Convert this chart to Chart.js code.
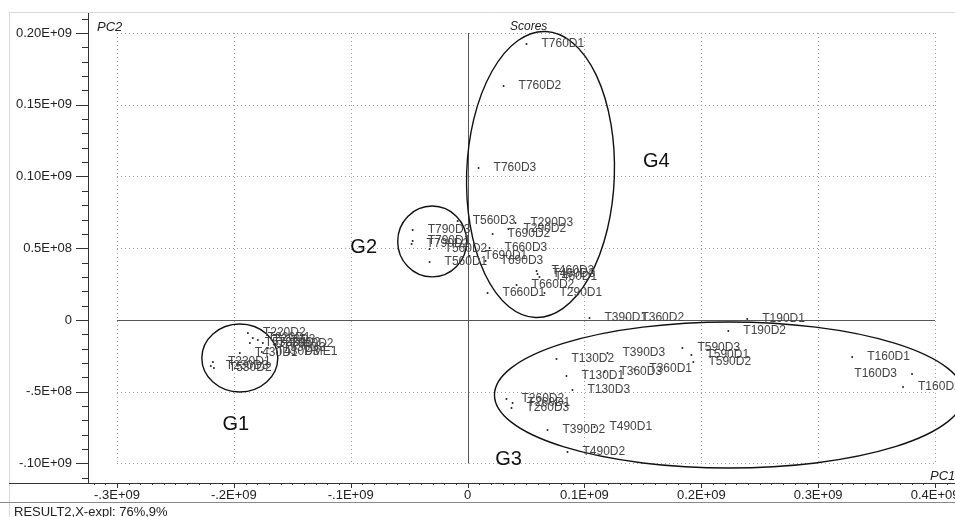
<!DOCTYPE html>
<html>
<head>
<meta charset="utf-8">
<script src="https://cdn.jsdelivr.net/npm/chart.js@4/dist/chart.umd.min.js"></script>
<style>
  html, body { margin: 0; padding: 0; background: #fff; overflow: hidden; }
  #wrap { position: relative; width: 980px; height: 517px; }
</style>
</head>
<body>
<div id="wrap"><canvas id="scores" width="980" height="517"></canvas></div>
<script>
// PCA scores, RESULT2: sample names with their PC1 / PC2 scores
const sampleNames = [
  'T760D1', 'T760D2', 'T760D3', 'T560D3', 'T290D3', 'T290D2', 'T690D2', 'T660D3',
  'T690D1', 'T690D3', 'T460D2', 'T460D3', 'T460D1', 'T660D2', 'T660D1', 'T290D1',
  'T790D3', 'T790D1', 'T790D2', 'T560D2', 'T560D1',
  'T390D1', 'T360D2', 'T190D1', 'T190D2',
  'T130D2', 'T390D3', 'T130D1', 'T360D3', 'T360D1', 'T130D3', 'T260D2', 'T260D1',
  'T260D3', 'T390D2', 'T490D1', 'T490D2', 'T590D3', 'T590D1', 'T590D2', 'T160D1',
  'T160D3', 'T160D2',
  'T220D2', 'T220D1', 'T220D3', 'T230D2', 'T330D2', 'T530D1', 'T530D3', 'T430D1',
  'T430D3', 'PME1', 'T230D1', 'T230D3', 'T530D2'
];
const pc1 = [
  0.0504e9, 0.0308e9, 0.0094e9, -0.0085e9, 0.0410e9, 0.0350e9, 0.0214e9, 0.0188e9,
  0.0017e9, 0.0154e9, 0.0590e9, 0.0598e9, 0.0615e9, 0.0419e9, 0.0171e9, 0.0658e9,
  -0.0470e9, -0.0470e9, -0.0479e9, -0.0325e9, -0.0325e9,
  0.1043e9, 0.1359e9, 0.2393e9, 0.2231e9,
  0.0761e9, 0.1197e9, 0.0846e9, 0.1171e9, 0.1427e9, 0.0897e9, 0.0333e9, 0.0385e9,
  0.0376e9, 0.0684e9, 0.1085e9, 0.0855e9, 0.1838e9, 0.1915e9, 0.1932e9, 0.3291e9,
  0.3803e9, 0.3726e9,
  -0.1880e9, -0.1838e9, -0.1795e9, -0.1752e9, -0.1641e9, -0.1863e9, -0.1709e9, -0.1949e9,
  -0.1761e9, -0.1521e9, -0.2179e9, -0.2197e9, -0.2171e9
];
const pc2 = [
  0.1923e9, 0.1631e9, 0.1059e9, 0.0690e9, 0.0676e9, 0.0634e9, 0.0599e9, 0.0502e9,
  0.0446e9, 0.0411e9, 0.0341e9, 0.0321e9, 0.0300e9, 0.0244e9, 0.0188e9, 0.0188e9,
  0.0627e9, 0.0551e9, 0.0530e9, 0.0495e9, 0.0404e9,
  0.0014e9, 0.0014e9, 0.0007e9, -0.0077e9,
  -0.0272e9, -0.0230e9, -0.0390e9, -0.0362e9, -0.0341e9, -0.0488e9, -0.0551e9, -0.0578e9,
  -0.0613e9, -0.0767e9, -0.0746e9, -0.0920e9, -0.0195e9, -0.0244e9, -0.0293e9, -0.0258e9,
  -0.0376e9, -0.0467e9,
  -0.0091e9, -0.0125e9, -0.0139e9, -0.0160e9, -0.0167e9, -0.0160e9, -0.0195e9, -0.0230e9,
  -0.0223e9, -0.0223e9, -0.0293e9, -0.0321e9, -0.0334e9
];

// Sample groups, outlined by ellipses in score space
const groupNames   = ['G1', 'G2', 'G3', 'G4'];
const groupPc1     = [-0.1949e9, -0.0303e9, 0.2239e9, 0.0624e9];
const groupPc2     = [-0.0265e9, 0.0547e9, -0.0523e9, 0.1014e9];
const groupHalfPc1 = [0.0325e9, 0.0295e9, 0.2009e9, 0.0632e9];
const groupHalfPc2 = [0.0237e9, 0.0247e9, 0.0509e9, 0.0997e9];
const groupTagPc1  = [-0.1983e9, -0.0889e9, 0.0350e9, 0.1615e9];
const groupTagPc2  = [-0.0725e9, 0.0502e9, -0.0969e9, 0.1101e9];

// Axis ticks
const xTickValues = [-0.3e9, -0.2e9, -0.1e9, 0, 0.1e9, 0.2e9, 0.3e9, 0.4e9];
const xTickLabels = ['-.3E+09', '-.2E+09', '-.1E+09', '0', '0.1E+09', '0.2E+09', '0.3E+09', '0.4E+09'];
const yTickValues = [-0.1e9, -0.05e9, 0, 0.05e9, 0.1e9, 0.15e9, 0.2e9];
const yTickLabels = ['-.10E+09', '-.5E+08', '0', '0.5E+08', '0.10E+09', '0.15E+09', '0.20E+09'];
const minorStep = 0.01e9;

const FONT = "'Liberation Sans', Arial, sans-serif";
const leftLabelled = new Set(['T160D3']);

function crisp(v) { return Math.round(v) + 0.5; }

const scoresPlot = {
  id: 'scoresPlot',
  beforeDraw(chart) {
    const ctx = chart.ctx;
    const W = chart.width, H = chart.height;
    const area = chart.chartArea;
    ctx.save();
    ctx.fillStyle = '#fff';
    ctx.fillRect(0, 0, W, H);
    // outer frame
    ctx.strokeStyle = '#d9d9d9';
    ctx.lineWidth = 1;
    ctx.beginPath();
    ctx.moveTo(crisp(9), H);
    ctx.lineTo(crisp(9), crisp(12));
    ctx.lineTo(W, crisp(12));
    ctx.stroke();
    // footer separator
    ctx.strokeStyle = '#8a8a8a';
    ctx.beginPath();
    ctx.moveTo(0, crisp(area.bottom + 19));
    ctx.lineTo(W, crisp(area.bottom + 19));
    ctx.stroke();
    ctx.restore();
  },
  beforeDatasetsDraw(chart) {
    const ctx = chart.ctx;
    const xs = chart.scales.x, ys = chart.scales.y;
    const area = chart.chartArea;
    const gx0 = xs.getPixelForValue(xTickValues[0]);
    const gx1 = xs.getPixelForValue(xTickValues[xTickValues.length - 1]);
    const gy0 = ys.getPixelForValue(yTickValues[yTickValues.length - 1]);
    const gy1 = ys.getPixelForValue(yTickValues[0]);
    ctx.save();
    // dotted grid
    ctx.strokeStyle = '#9c9c9c';
    ctx.lineWidth = 1;
    ctx.setLineDash([1, 3]);
    xTickValues.forEach(v => {
      if (v === 0) return;
      const px = crisp(xs.getPixelForValue(v));
      ctx.beginPath(); ctx.moveTo(px, gy0); ctx.lineTo(px, gy1); ctx.stroke();
    });
    yTickValues.forEach(v => {
      if (v === 0) return;
      const py = crisp(ys.getPixelForValue(v));
      ctx.beginPath(); ctx.moveTo(gx0, py); ctx.lineTo(gx1, py); ctx.stroke();
    });
    ctx.setLineDash([]);
    // origin lines
    ctx.strokeStyle = '#555';
    const ox = crisp(xs.getPixelForValue(0));
    const oy = crisp(ys.getPixelForValue(0));
    ctx.beginPath(); ctx.moveTo(gx0, oy); ctx.lineTo(gx1, oy); ctx.stroke();
    ctx.beginPath(); ctx.moveTo(ox, gy0); ctx.lineTo(ox, gy1); ctx.stroke();

    // axis lines
    ctx.strokeStyle = '#333';
    ctx.beginPath();
    ctx.moveTo(crisp(area.left), area.top);
    ctx.lineTo(crisp(area.left), crisp(area.bottom));
    ctx.stroke();
    ctx.beginPath();
    ctx.moveTo(9, crisp(area.bottom));
    ctx.lineTo(chart.width, crisp(area.bottom));
    ctx.stroke();

    // tick marks: long at labelled values, short every minor step
    const isMajor = (vals, v) => vals.some(t => Math.abs(t - v) < 1);
    const yLo = Math.ceil(ys.min / minorStep), yHi = Math.floor(ys.max / minorStep);
    for (let k = yLo; k <= yHi; k++) {
      const v = k * minorStep;
      const py = crisp(ys.getPixelForValue(v));
      const len = isMajor(yTickValues, v) ? 12 : 6;
      ctx.beginPath(); ctx.moveTo(area.left - len, py); ctx.lineTo(area.left, py); ctx.stroke();
    }
    const xLo = Math.ceil(xs.min / minorStep), xHi = Math.floor(xs.max / minorStep);
    for (let k = xLo; k <= xHi; k++) {
      const v = k * minorStep;
      const px = crisp(xs.getPixelForValue(v));
      const len = isMajor(xTickValues, v) ? 5 : 2;
      ctx.beginPath(); ctx.moveTo(px, area.bottom); ctx.lineTo(px, area.bottom + len); ctx.stroke();
    }
    ctx.restore();
  },
  afterDatasetsDraw(chart) {
    const ctx = chart.ctx;
    const xs = chart.scales.x, ys = chart.scales.y;
    const area = chart.chartArea;
    ctx.save();

    // group ellipses
    ctx.strokeStyle = '#111';
    ctx.lineWidth = 1.4;
    groupNames.forEach((g, i) => {
      const cx = xs.getPixelForValue(groupPc1[i]);
      const cy = ys.getPixelForValue(groupPc2[i]);
      const rx = Math.abs(xs.getPixelForValue(groupPc1[i] + groupHalfPc1[i]) - cx);
      const ry = Math.abs(ys.getPixelForValue(groupPc2[i] + groupHalfPc2[i]) - cy);
      const tilt = g === 'G4' ? 0.035 : 0;
      ctx.beginPath();
      ctx.ellipse(cx, cy, rx, ry, tilt, 0, Math.PI * 2);
      ctx.stroke();
    });

    // sample labels beside each score
    const meta = chart.getDatasetMeta(0);
    ctx.font = '12px ' + FONT;
    ctx.fillStyle = '#444';
    ctx.textBaseline = 'middle';
    meta.data.forEach((pt, i) => {
      const name = sampleNames[i];
      if (leftLabelled.has(name)) {
        ctx.textAlign = 'right';
        ctx.fillText(name, pt.x - 15, pt.y);
      } else {
        ctx.textAlign = 'left';
        ctx.fillText(name, pt.x + 15, pt.y);
      }
    });

    // group tags
    ctx.font = '20px ' + FONT;
    ctx.fillStyle = '#111';
    ctx.textAlign = 'center';
    groupNames.forEach((g, i) => {
      ctx.fillText(g, xs.getPixelForValue(groupTagPc1[i]), ys.getPixelForValue(groupTagPc2[i]));
    });

    // axis titles and plot title
    ctx.fillStyle = '#222';
    ctx.textBaseline = 'alphabetic';
    ctx.textAlign = 'left';
    ctx.font = 'italic 13px ' + FONT;
    ctx.fillText('PC2', area.left + 9, 31);
    ctx.fillText('PC1', 930, area.bottom - 3);
    ctx.font = 'italic 12px ' + FONT;
    ctx.fillText('Scores', 510, 30);

    // footer
    ctx.font = '13px ' + FONT;
    ctx.fillStyle = '#222';
    ctx.fillText('RESULT2,X-expl: 76%,9%', 14, 516);
    ctx.restore();
  }
};

new Chart(document.getElementById('scores'), {
  type: 'scatter',
  data: {
    datasets: [{
      label: 'Scores',
      data: sampleNames.map((n, i) => ({ x: pc1[i], y: pc2[i] })),
      pointRadius: 1,
      pointHoverRadius: 1,
      pointBackgroundColor: '#222',
      pointBorderWidth: 0
    }]
  },
  options: {
    responsive: false,
    animation: false,
    devicePixelRatio: 1,
    events: [],
    layout: { padding: { left: 9, top: 13, right: 0, bottom: 15 } },
    plugins: { legend: { display: false }, tooltip: { enabled: false } },
    scales: {
      x: {
        type: 'linear',
        min: -0.3248e9,
        max: 0.4376e9,
        afterBuildTicks: s => { s.ticks = xTickValues.map(v => ({ value: v })); },
        afterFit: s => { s.height = 19; s.paddingLeft = 0; s.paddingRight = 0; },
        ticks: {
          autoSkip: false, maxRotation: 0, minRotation: 0, padding: 5,
          color: '#222', font: { family: FONT, size: 13 },
          callback: (v, i) => xTickLabels[i]
        },
        grid: { display: false, drawTicks: false },
        border: { display: false }
      },
      y: {
        type: 'linear',
        min: -0.1136e9,
        max: 0.2139e9,
        afterBuildTicks: s => { s.ticks = yTickValues.map(v => ({ value: v })); },
        afterFit: s => { s.width = 79; s.paddingTop = 0; s.paddingBottom = 0; },
        ticks: {
          autoSkip: false, padding: 16,
          color: '#222', font: { family: FONT, size: 13 },
          callback: (v, i) => yTickLabels[i]
        },
        grid: { display: false, drawTicks: false },
        border: { display: false }
      }
    }
  },
  plugins: [scoresPlot]
});
</script>
</body>
</html>
